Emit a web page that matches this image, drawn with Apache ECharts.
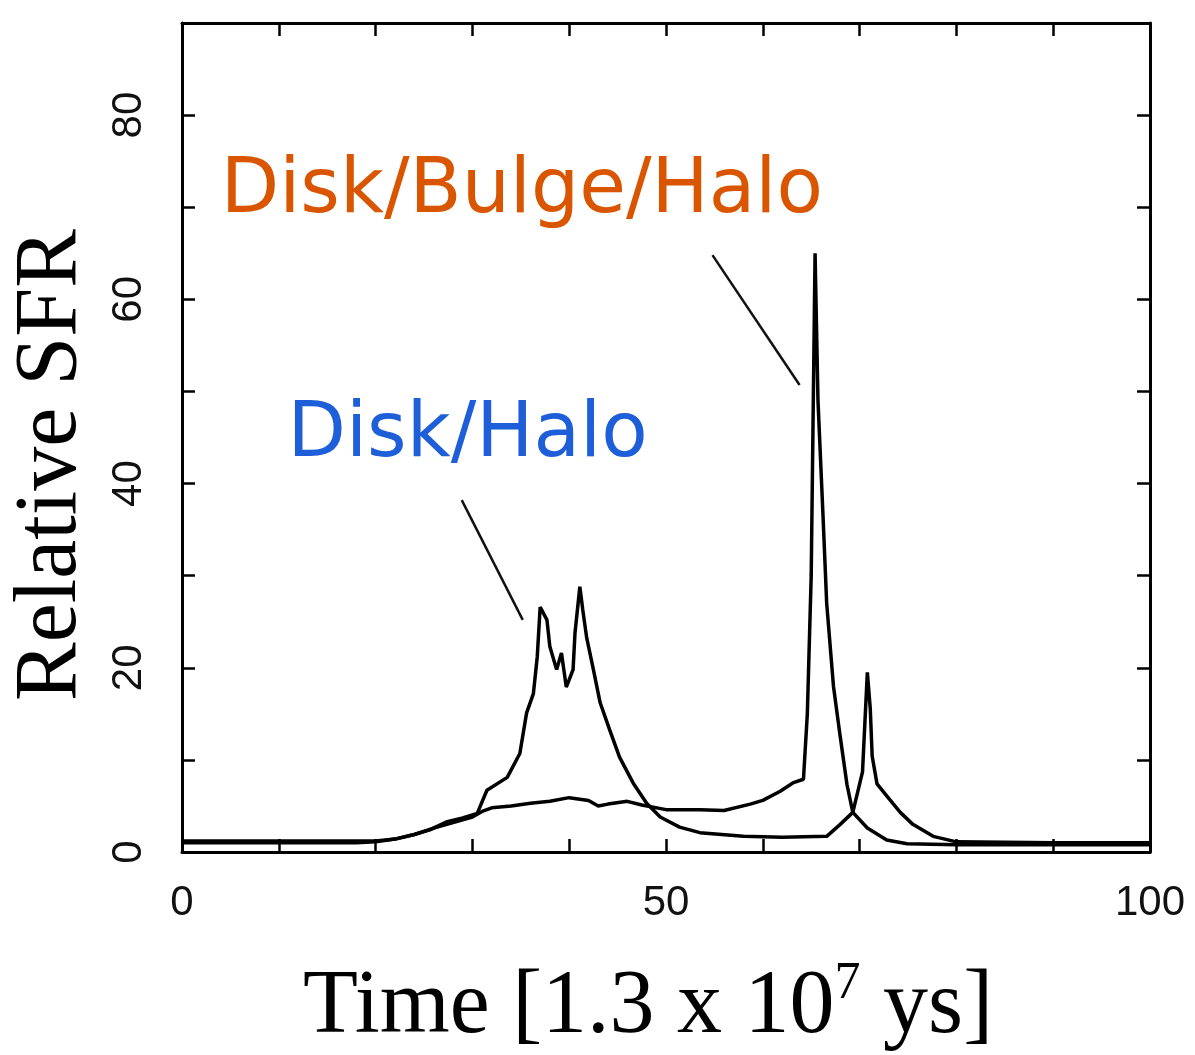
<!DOCTYPE html>
<html>
<head>
<meta charset="utf-8">
<script src="https://cdn.jsdelivr.net/npm/echarts@6/dist/echarts.min.js"></script>
<style>
  html, body { margin: 0; padding: 0; background: #fff; }
  #chart { width: 1195px; height: 1055px; }
</style>
</head>
<body>
<div id="chart"></div>
<script>
// ---- data ----
const timeDBH = [0, 10, 18, 20, 22, 24, 26, 28, 30, 31, 32, 34, 36, 38, 40, 42, 43, 44, 46, 47.5, 50, 53.5, 56, 58.7, 60, 61.8, 63.1, 64.2, 64.6, 65.0, 65.4, 65.7, 66.2, 66.6, 67.3, 68.0, 68.7, 69.3, 70.8, 72.8, 74.9, 80, 100];
const sfrDBH  = [1.0, 1.0, 1.0, 1.1, 1.4, 1.9, 2.6, 3.2, 3.8, 4.4, 4.8, 5.0, 5.3, 5.5, 5.9, 5.6, 5.0, 5.2, 5.5, 5.1, 4.6, 4.6, 4.5, 5.2, 5.6, 6.6, 7.5, 7.9, 15, 30, 65, 49, 37, 27, 18, 12.5, 7.3, 4.3, 2.6, 1.3, 0.9, 0.8, 0.8];

const timeDH = [0, 10, 20, 22, 24, 25.6, 27.4, 29, 30.5, 31.5, 33.6, 34.9, 35.6, 36.3, 36.7, 37.0, 37.7, 38.0, 38.7, 39.2, 39.7, 40.4, 40.6, 41.1, 41.4, 41.8, 42.5, 43.2, 44.2, 45.2, 46.6, 48.0, 49.4, 51.4, 53.5, 58, 62, 66.6, 68.0, 69.3, 70.3, 70.8, 71.1, 71.3, 71.8, 72.8, 74.2, 75.5, 77.6, 80, 90, 100];
const sfrDH  = [1.2, 1.2, 1.2, 1.4, 1.9, 2.4, 3.3, 3.7, 4.2, 6.7, 8.1, 10.7, 15.1, 17.2, 21.2, 26.6, 25.2, 22.3, 19.8, 21.6, 17.9, 19.8, 23.8, 28.8, 26.3, 23.3, 19.8, 16.2, 13.2, 10.3, 7.5, 5.3, 3.8, 2.7, 2.1, 1.7, 1.6, 1.7, 3.0, 4.3, 8.7, 19.5, 15.6, 10.4, 7.4, 6.1, 4.3, 3.0, 1.7, 1.1, 1.0, 1.0];

const xTickLabels = [0, 50, 100];
const yTickLabels = [0, 20, 40, 60, 80];

const labelNames = ['Disk/Bulge/Halo', 'Disk/Halo'];
const labelAt = [[35.1, 71.6], [29.5, 45.1]];
const pointerDBH = [[54.8, 64.8], [63.8, 50.7]];
const pointerDH = [[28.9, 38.2], [35.2, 25.2]];

const xTitle = ['Time [1.3 x 10', '7', ' ys]'];
const yTitle = 'Relative SFR';

// ---- chart ----
const zip = (a, b) => a.map((v, i) => [v, b[i]]);
const chart = echarts.init(document.getElementById('chart'), null, { renderer: 'canvas' });

const frameLine = { show: true, onZero: false, lineStyle: { color: '#000', width: 3 } };
const tickStyle = { show: true, inside: true, length: 13, lineStyle: { color: '#000', width: 2.5 } };

chart.setOption({
  animation: false,
  backgroundColor: '#fff',
  grid: { left: 182, right: 45, top: 23, bottom: 203, containLabel: false },
  xAxis: [
    {
      type: 'value', min: 0, max: 100, interval: 10, position: 'bottom',
      axisLine: frameLine, axisTick: tickStyle, splitLine: { show: false },
      axisLabel: {
        show: true, margin: 30, color: '#111', fontSize: 42,
        fontFamily: 'Liberation Sans, Arial, sans-serif',
        formatter: v => xTickLabels.includes(v) ? String(v) : ''
      }
    },
    {
      type: 'value', min: 0, max: 100, interval: 10, position: 'top',
      axisLine: frameLine, axisTick: tickStyle, splitLine: { show: false },
      axisLabel: { show: false }
    }
  ],
  yAxis: [
    {
      type: 'value', min: 0, max: 90, interval: 10, position: 'left',
      axisLine: frameLine, axisTick: tickStyle, splitLine: { show: false },
      axisLabel: {
        show: true, rotate: 90, margin: 32, color: '#111', fontSize: 42,
        fontFamily: 'Liberation Sans, Arial, sans-serif',
        formatter: v => yTickLabels.includes(v) ? String(v) : ''
      }
    },
    {
      type: 'value', min: 0, max: 90, interval: 10, position: 'right',
      axisLine: frameLine, axisTick: tickStyle, splitLine: { show: false },
      axisLabel: { show: false }
    }
  ],
  series: [
    {
      name: 'Disk/Halo', type: 'line', data: zip(timeDH, sfrDH),
      showSymbol: false, symbol: 'none',
      lineStyle: { color: '#000', width: 3.5 }, z: 3
    },
    {
      name: 'Disk/Bulge/Halo', type: 'line', data: zip(timeDBH, sfrDBH),
      showSymbol: false, symbol: 'none',
      lineStyle: { color: '#000', width: 3.5 }, z: 3
    },
    {
      type: 'line', data: pointerDBH, showSymbol: false, symbol: 'none',
      lineStyle: { color: '#111', width: 2.5 }, z: 2
    },
    {
      type: 'line', data: pointerDH, showSymbol: false, symbol: 'none',
      lineStyle: { color: '#111', width: 2.5 }, z: 2
    },
    {
      type: 'scatter', symbolSize: 0, z: 5,
      itemStyle: { opacity: 1 },
      data: [
        { value: labelAt[0], label: { formatter: labelNames[0], color: '#D95500' } },
        { value: labelAt[1], label: { formatter: labelNames[1], color: '#1E5ED8' } }
      ],
      label: {
        show: true, position: 'inside', fontSize: 76, opacity: 1,
        fontFamily: 'DejaVu Sans, sans-serif', fontWeight: 'normal'
      }
    }
  ],
  graphic: [
    {
      type: 'text', x: 52, y: 465, rotation: Math.PI / 2,
      style: {
        text: yTitle, font: '88px "Liberation Serif", "Times New Roman", serif',
        fill: '#000', align: 'center', verticalAlign: 'middle'
      }
    },
    {
      type: 'text', x: 648, y: 1008,
      style: {
        text: '{a|' + xTitle[0] + '}{b|' + xTitle[1] + '}{a|' + xTitle[2] + '}',
        align: 'center', verticalAlign: 'middle', fill: '#000',
        rich: {
          a: { fontSize: 90, lineHeight: 100, fontFamily: '"Liberation Serif", "Times New Roman", serif', color: '#000' },
          b: { fontSize: 52, lineHeight: 60, verticalAlign: 'top', fontFamily: '"Liberation Serif", "Times New Roman", serif', color: '#000' }
        }
      }
    }
  ]
});
</script>
</body>
</html>
